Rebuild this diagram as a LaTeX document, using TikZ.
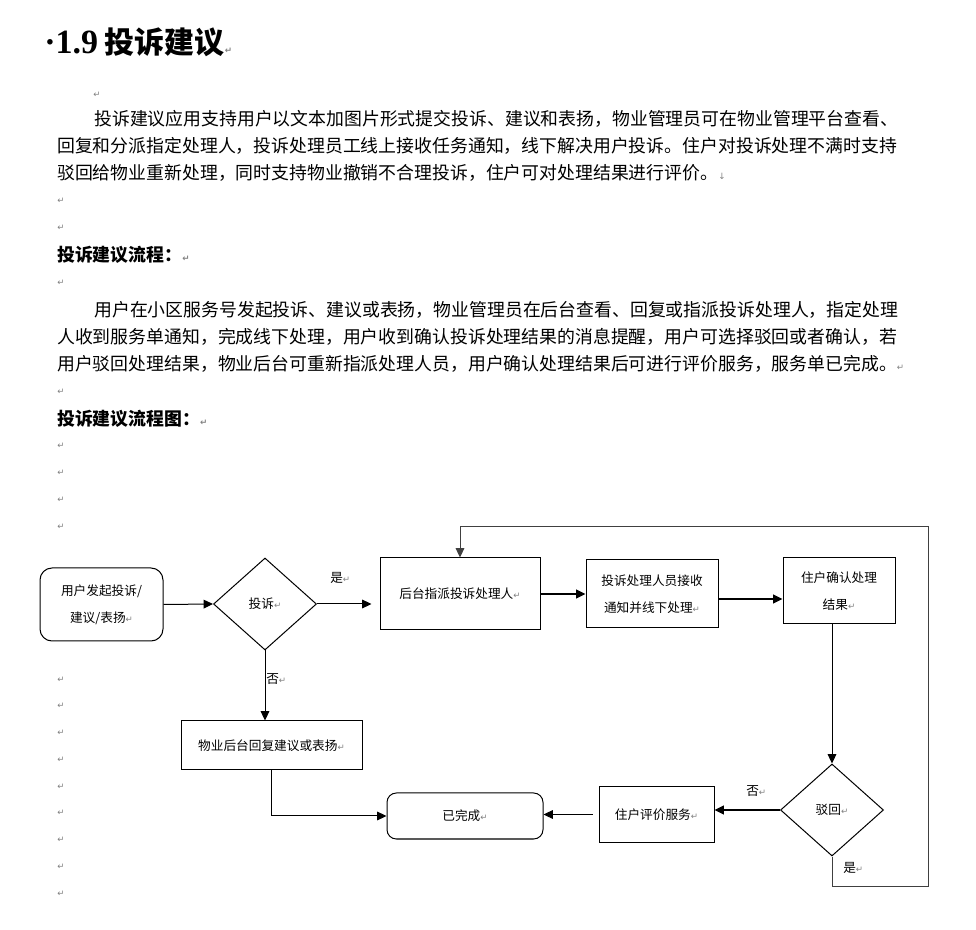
\documentclass[tikz,border=0pt]{standalone}
\usepackage{fontspec}
\setmainfont{Noto Sans CJK SC}
\newfontfamily\serifnum{Liberation Serif}
\newfontfamily\symfont{DejaVu Sans}
\usetikzlibrary{arrows.meta,shapes.geometric}
\newcommand{\pmk}{{\symfont\color{gray}\fontsize{6.5pt}{7pt}\selectfont ↵}}
\newcommand{\lmk}{{\symfont\color{gray}\fontsize{6.5pt}{7pt}\selectfont ↓}}
\begin{document}
\begin{tikzpicture}[x=0.75pt,y=-0.75pt,
  body/.style={anchor=west, inner sep=0pt, font=\fontsize{13.4pt}{16pt}\selectfont},
  head/.style={anchor=west, inner sep=0pt, font=\fontsize{13.4pt}{16pt}\selectfont\bfseries},
  pm/.style={anchor=west, inner sep=0pt},
  box/.style={draw, line width=0.75pt, inner sep=0pt, align=center, font=\fontsize{9.5pt}{20pt}\selectfont},
  rbox/.style={box, rounded corners=9pt},
  dia/.style={draw, shape=diamond, line width=0.75pt, inner sep=0pt, font=\fontsize{9.5pt}{12pt}\selectfont, minimum width=77.25pt, minimum height=69pt},
  arr/.style={-{Triangle[length=7pt,width=6.5pt]}, line width=0.75pt},
  thk/.style={arr, line width=1.4pt},
  lbl/.style={anchor=west, inner sep=0pt, font=\fontsize{9.5pt}{12pt}\selectfont}
]
\useasboundingbox (0,0) rectangle (976,930);

% title
\node[anchor=west, inner sep=0pt, font=\fontsize{22.5pt}{26pt}\selectfont\bfseries] (title) at (44,42) {{\serifnum\fontsize{25.5pt}{26pt}\selectfont ·1.9} 投诉建议\pmk};

% paragraph 1
\node[pm] (m1) at (93,95) {\pmk};
\node[body] (p1a) at (94,119) {投诉建议应用支持用户以文本加图片形式提交投诉、建议和表扬，物业管理员可在物业管理平台查看、};
\node[body] (p1b) at (57,146) {回复和分派指定处理人，投诉处理员工线上接收任务通知，线下解决用户投诉。住户对投诉处理不满时支持};
\node[body] (p1c) at (57,173) {驳回给物业重新处理，同时支持物业撤销不合理投诉，住户可对处理结果进行评价。\lmk};
\node[pm] (m2) at (57,201) {\pmk};
\node[pm] (m3) at (57,228) {\pmk};
\node[head] (h1) at (57,255) {投诉建议流程：\pmk};
\node[pm] (m4) at (57,283) {\pmk};
\node[body] (p2a) at (94,310) {用户在小区服务号发起投诉、建议或表扬，物业管理员在后台查看、回复或指派投诉处理人，指定处理};
\node[body] (p2b) at (57,337) {人收到服务单通知，完成线下处理，用户收到确认投诉处理结果的消息提醒，用户可选择驳回或者确认，若};
\node[body] (p2c) at (57,364) {用户驳回处理结果，物业后台可重新指派处理人员，用户确认处理结果后可进行评价服务，服务单已完成。\pmk};
\node[pm] (m5) at (57,392) {\pmk};
\node[head] (h2) at (57,419) {投诉建议流程图：\pmk};
\foreach \yy [count=\i] in {446,473,500,527,680,706,733,760,787,813,840,867,894} {
  \node[pm] (lm\i) at (57,\yy) {\pmk};
}

% flowchart nodes
\node[rbox, minimum width=92.25pt, minimum height=54.75pt] (start) at (101.5,604.5) {用户发起投诉/\\建议/表扬\pmk};
\node[dia] (d1) at (265,604) {投诉\pmk};
\node[box, minimum width=120pt, minimum height=54pt] (b1) at (460,594) {后台指派投诉处理人\pmk};
\node[box, minimum width=99pt, minimum height=51pt] (b2) at (652,594) {投诉处理人员接收\\通知并线下处理\pmk};
\node[box, minimum width=84pt, minimum height=49.5pt] (b3) at (839,591) {住户确认处理\\结果\pmk};
\node[dia] (d2) at (832,810) {驳回\pmk};
\node[box, minimum width=86.25pt, minimum height=41.25pt] (b4) at (656.5,814.5) {住户评价服务\pmk};
\node[rbox, rounded corners=7pt, minimum width=117pt, minimum height=34.5pt] (done) at (465,816) {已完成\pmk};
\node[box, minimum width=135.75pt, minimum height=36.75pt] (b5) at (271.5,745.5) {物业后台回复建议或表扬\pmk};

% labels
\node[lbl] (yes1) at (330,578) {是\pmk};
\node[lbl] (no1) at (266,679) {否\pmk};
\node[lbl] (no2) at (746,791) {否\pmk};
\node[lbl] (yes2) at (843,868) {是\pmk};

% connectors
\coordinate (lp1) at (928,886);
\coordinate (lp2) at (928,527);
\draw[arr] (start.east) -- (d1.west);
\draw[arr, shorten >=6pt] (d1.east) -- (d1.east -| b1.west);
\draw[thk] (b1.east) -- (b1.east -| b2.west);
\draw[thk] ([yshift=-3.75pt]b2.east) -- ([yshift=-3.75pt]b2.east -| b3.west);
\draw[arr] (b3.south -| d2.north) -- (d2.north);
\draw[thk] (d2.west) -- (d2.west -| b4.east);
\draw[arr, shorten <=4.5pt] (b4.west) -- (b4.west -| done.east);
\draw[arr] (d1.south) -- (d1.south |- b5.north);
\draw[arr] (b5.south) |- (done.west);
\draw[arr, draw=black!75] (d2.south) |- (lp1) -- (lp2) -| (b1.north);
\end{tikzpicture}
\end{document}
